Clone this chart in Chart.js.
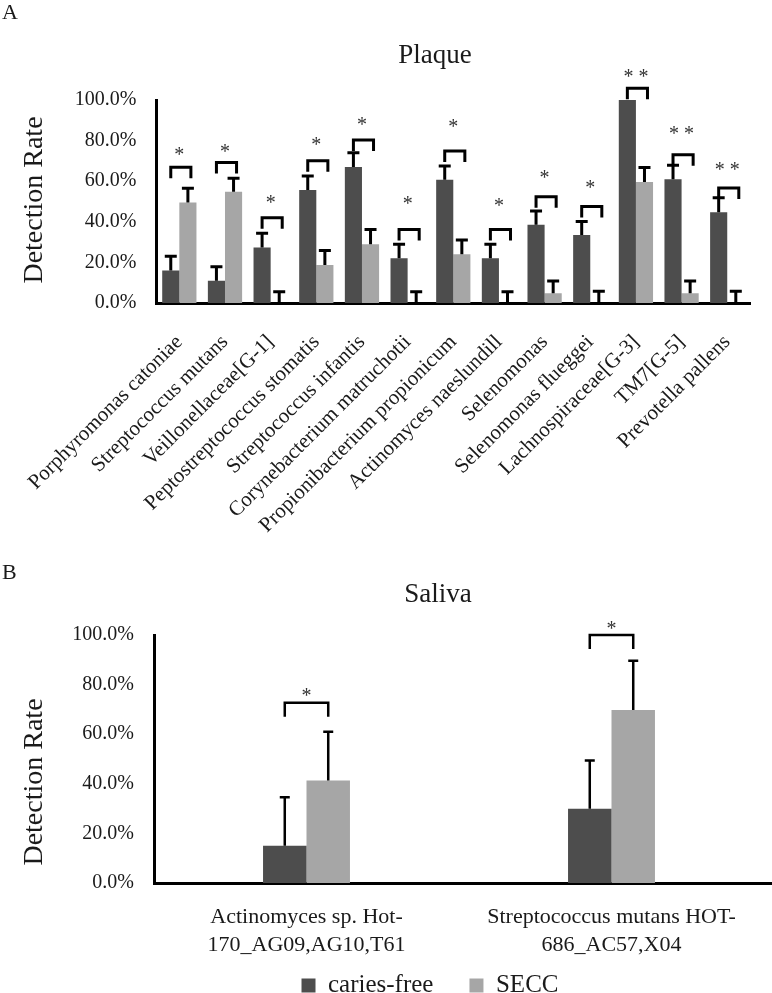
<!DOCTYPE html>
<html>
<head>
<meta charset="utf-8">
<script src="https://cdn.jsdelivr.net/npm/chart.js@4.4.0/dist/chart.umd.min.js"></script>
<style>
  html, body { margin: 0; padding: 0; background: #fff; }
  body {
    width: 772px; height: 993px; overflow: hidden; position: relative;
    font-family: "Liberation Serif", "Times New Roman", serif; color: #1a1a1a;
  }
  canvas { position: absolute; left: 0; }
  .abs { position: absolute; white-space: nowrap; line-height: 1; }
  .panel { font-size: 22px; left: 2px; }
  .title { font-size: 27px; transform: translateX(-50%); }
  .ytitle { font-size: 28px; transform: translate(-50%, -50%) rotate(-90deg); }
</style>
</head>
<body>
<canvas id="plaque" width="772" height="555" style="top:0"></canvas>
<canvas id="saliva" width="772" height="453" style="top:555px"></canvas>

<div class="abs panel" style="top:1px">A</div>
<div class="abs title" style="left:435px; top:41px">Plaque</div>
<div class="abs ytitle" style="left:33px; top:200px">Detection Rate</div>

<div class="abs panel" style="top:561px">B</div>
<div class="abs title" style="left:438px; top:580px">Saliva</div>
<div class="abs ytitle" style="left:33px; top:782px">Detection Rate</div>

<script>
// ---- Plaque (panel A) ----
const plaqueLabels = [
  "Porphyromonas catoniae",
  "Streptococcus mutans",
  "Veillonellaceae[G-1]",
  "Peptostreptococcus stomatis",
  "Streptococcus infantis",
  "Corynebacterium matruchotii",
  "Propionibacterium propionicum",
  "Actinomyces naeslundill",
  "Selenomonas",
  "Selenomonas flueggei",
  "Lachnospiraceae[G-3]",
  "TM7[G-5]",
  "Prevotella pallens",
];
const plaqueCariesFree = [16, 11, 27.3, 55.7, 67, 22, 60.7, 22, 38.6, 33.5, 100, 60.9, 44.7];
const plaqueCariesFreeErr = [7, 6.9, 7, 6.9, 7, 7, 6.8, 7, 6.7, 6.7, 0, 6.9, 7.2];
const plaqueSecc = [49.5, 54.8, 0, 18.7, 29, 0, 24, 0, 4.8, 0, 59.6, 4.8, 0];
const plaqueSeccErr = [7, 6.7, 5.6, 7.2, 7.2, 5.6, 7, 5.6, 6, 5.8, 7.1, 6, 5.8];
// significance brackets (level in %) and their asterisks
const plaqueBrackets = [66.9, 69.2, 42, 70.1, 80.3, 36.2, 74.9, 36.2, 52.4, 47.5, 105.8, 73, 56.7];
const plaqueStars = ["*", "*", "*", "*", "*", "*", "*", "*", "*", "*", "* *", "* *", "* *"];
const plaqueStarLevels = [74.9, 76.2, 51.3, 80, 89.8, 50.8, 88.5, 49.7, 63.5, 58.7, 113.1, 85.2, 67.5];

// ---- Saliva (panel B) ----
const salivaLabels = [
  ["Actinomyces sp. Hot-", "170_AG09,AG10,T61"],
  ["Streptococcus mutans HOT-", "686_AC57,X04"],
];
const salivaCariesFree = [15, 29.9];
const salivaCariesFreeErr = [19.6, 19.5];
const salivaSecc = [41.3, 69.8];
const salivaSeccErr = [19.7, 19.8];
const salivaBrackets = [72.7, 100];
const salivaStars = ["*", "*"];
const salivaStarLevels = [77.2, 104];

const yTicks = [0, 20, 40, 60, 80, 100];

const DARK = "#4d4d4d";
const LIGHT = "#a6a6a6";
const TEXT = "#1a1a1a";
const SERIF = "'Liberation Serif', 'Times New Roman', serif";

Chart.defaults.font.family = SERIF;
Chart.defaults.color = TEXT;

// same rounding Chart.js uses for its own axis lines
const alignPx = (p, w) => Math.round(p - w / 2) + w / 2;

// error bars (upper only), brackets and asterisks
function makeSigPlugin(cfg) {
  return {
    id: "sig",
    afterLayout(chart) {
      // key sits a little right of the canvas centre in the original
      if (cfg.legendShift && chart.legend) {
        chart.legend.left += cfg.legendShift;
        chart.legend.right += cfg.legendShift;
      }
    },
    afterDatasetsDraw(chart) {
      const ctx = chart.ctx;
      const x = chart.scales.x;
      const y = chart.scales.y;
      const metas = [chart.getDatasetMeta(0), chart.getDatasetMeta(1)];
      ctx.save();
      ctx.strokeStyle = "#000";
      ctx.lineCap = "butt";
      ctx.lineWidth = cfg.lw;
      metas.forEach((meta, di) => {
        meta.data.forEach((bar, i) => {
          const err = cfg.errors[di][i];
          if (!err) return;
          const v = chart.data.datasets[di].data[i];
          const yTop = y.getPixelForValue(v + err);
          ctx.beginPath();
          ctx.moveTo(bar.x, y.getPixelForValue(v));
          ctx.lineTo(bar.x, yTop);
          ctx.moveTo(bar.x - cfg.cap / 2, yTop);
          ctx.lineTo(bar.x + cfg.cap / 2, yTop);
          ctx.stroke();
        });
      });

      ctx.lineWidth = cfg.blw;
      cfg.brackets.forEach((lvl, i) => {
        const x1 = metas[0].data[i].x;
        const x2 = metas[1].data[i].x + cfg.bxr;
        const yb = y.getPixelForValue(lvl);
        ctx.beginPath();
        ctx.moveTo(x1, yb + cfg.tail);
        ctx.lineTo(x1, yb);
        ctx.lineTo(x2, yb);
        ctx.lineTo(x2, yb + cfg.tail);
        ctx.stroke();
      });

      ctx.fillStyle = "#333";
      ctx.font = cfg.starFont;
      ctx.textAlign = "center";
      ctx.textBaseline = "alphabetic";
      cfg.stars.forEach((s, i) => {
        ctx.fillText(s, x.getPixelForValue(i), y.getPixelForValue(cfg.starLevels[i]) + cfg.starDy);
      });

      if (cfg.extendAxis) {
        // the x axis line runs on to the right edge of the picture
        const a = chart.chartArea;
        const yy = alignPx(a.bottom, 3);
        ctx.lineWidth = 3;
        ctx.beginPath();
        ctx.moveTo(a.right - 2, yy);
        ctx.lineTo(chart.width, yy);
        ctx.stroke();
      }
      ctx.restore();
    },
  };
}

function yAxis(width) {
  return {
    min: 0,
    max: 100,
    afterBuildTicks: (s) => { s.ticks = yTicks.map((v) => ({ value: v })); },
    afterFit: (s) => { s.width = width; },
    grid: { display: false, drawTicks: false },
    border: { display: true, color: "#000", width: 3 },
    ticks: {
      padding: 20,
      color: TEXT,
      font: { size: 20 },
      callback: (v) => v.toFixed(1) + "%",
    },
  };
}

new Chart(document.getElementById("plaque"), {
  type: "bar",
  data: {
    labels: plaqueLabels,
    datasets: [
      { label: "caries-free", data: plaqueCariesFree, backgroundColor: DARK, borderWidth: 0 },
      { label: "SECC", data: plaqueSecc, backgroundColor: LIGHT, borderWidth: 0 },
    ],
  },
  options: {
    responsive: false,
    animation: false,
    layout: { padding: { top: 100, left: 0, right: 0, bottom: 0 } },
    datasets: { bar: { barPercentage: 1, categoryPercentage: 0.75 } },
    plugins: { legend: { display: false }, title: { display: false }, tooltip: { enabled: false } },
    scales: {
      x: {
        afterFit: (s) => { s.height = 252; },
        grid: { display: false, drawTicks: false },
        border: { display: true, color: "#000", width: 3 },
        ticks: {
          autoSkip: false,
          minRotation: 45,
          maxRotation: 45,
          padding: 27,
          color: TEXT,
          font: { size: 21 },
        },
      },
      y: yAxis(155),
    },
  },
  plugins: [makeSigPlugin({
    errors: [plaqueCariesFreeErr, plaqueSeccErr],
    brackets: plaqueBrackets,
    stars: plaqueStars,
    starLevels: plaqueStarLevels,
    lw: 3, cap: 12, blw: 3, tail: 11, bxr: 3,
    starFont: "20px " + SERIF, starDy: 10,
  })],
});

new Chart(document.getElementById("saliva"), {
  type: "bar",
  data: {
    labels: salivaLabels,
    datasets: [
      { label: "caries-free", data: salivaCariesFree, backgroundColor: DARK, borderWidth: 0 },
      { label: "SECC", data: salivaSecc, backgroundColor: LIGHT, borderWidth: 0 },
    ],
  },
  options: {
    responsive: false,
    animation: false,
    layout: { padding: { top: 80, left: 70, right: 8, bottom: 0 } },
    datasets: { bar: { barPercentage: 1, categoryPercentage: 0.285 } },
    plugins: {
      title: { display: false },
      tooltip: { enabled: false },
      legend: {
        position: "bottom",
        labels: {
          boxWidth: 14,
          boxHeight: 14,
          padding: 11,
          color: TEXT,
          font: { size: 25 },
          // wider gap after the first entry, as in the original key
          generateLabels: (chart) =>
            Chart.defaults.plugins.legend.labels.generateLabels(chart).map((it, i) =>
              Object.assign(it, { text: i === 0 ? it.text + "\u2003" : it.text })),
        },
      },
    },
    scales: {
      x: {
        afterFit: (s) => { s.height = 79; },
        grid: { display: false, drawTicks: false },
        border: { display: true, color: "#000", width: 3 },
        ticks: {
          autoSkip: false,
          maxRotation: 0,
          padding: 20,
          color: TEXT,
          font: { size: 22, lineHeight: 1.27 },
        },
      },
      y: yAxis(84),
    },
  },
  plugins: [makeSigPlugin({
    errors: [salivaCariesFreeErr, salivaSeccErr],
    brackets: salivaBrackets,
    stars: salivaStars,
    starLevels: salivaStarLevels,
    lw: 2.5, cap: 10, blw: 2.5, tail: 14, bxr: 0,
    starFont: "20px " + SERIF, starDy: 10,
    extendAxis: true,
    legendShift: 13,
  })],
});
</script>
</body>
</html>
